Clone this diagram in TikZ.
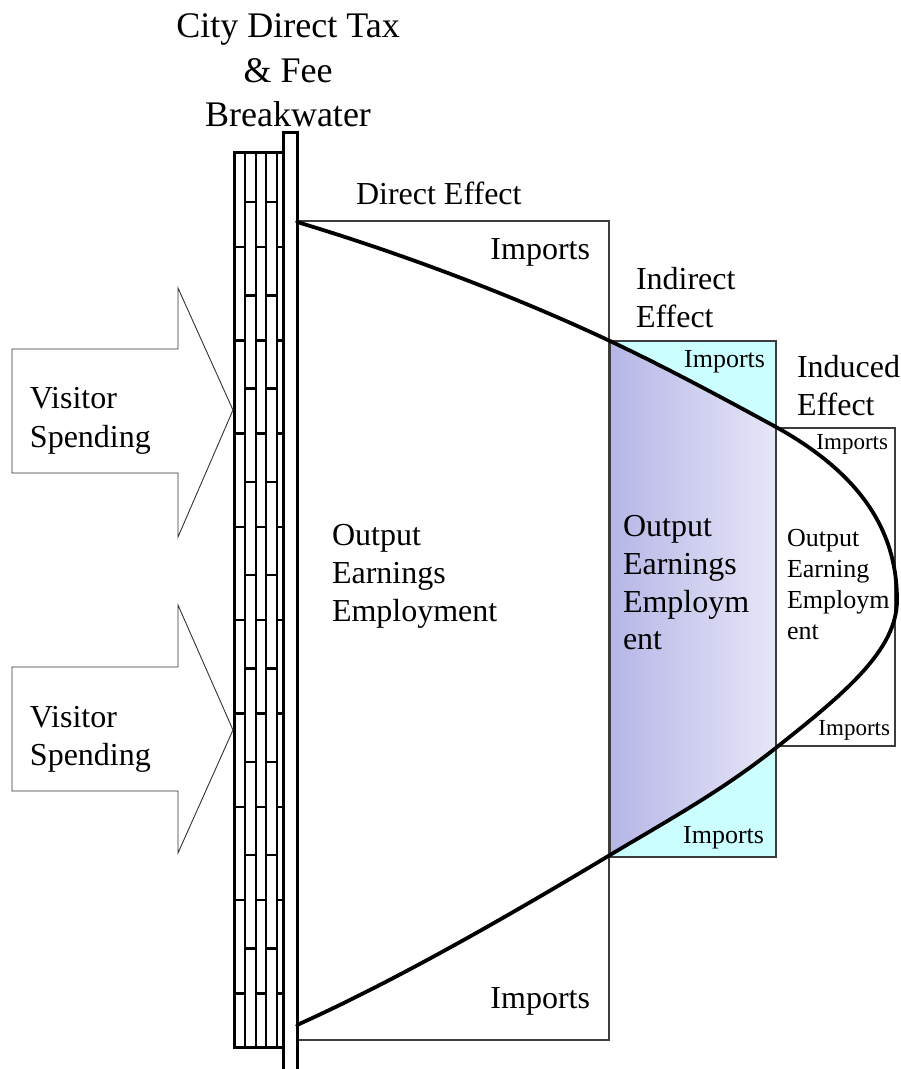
\documentclass[tikz,border=0pt]{standalone}
\usepackage{fontspec}
\setmainfont{Liberation Serif}
\definecolor{importcyan}{RGB}{204,255,255}
\definecolor{shadeleft}{RGB}{182,182,230}
\definecolor{shaderight}{RGB}{230,230,248}
\definecolor{frame}{RGB}{60,60,60}
\begin{document}
\begin{tikzpicture}[x=1pt,y=-1pt,
  txt/.style={inner sep=0pt, outer sep=0pt, anchor=base west},
  txtr/.style={inner sep=0pt, outer sep=0pt, anchor=base east},
  txtc/.style={inner sep=0pt, outer sep=0pt, anchor=base},
  big/.style={font=\fontsize{36}{44}\selectfont},
  mid/.style={font=\fontsize{32}{38}\selectfont},
  small/.style={font=\fontsize{26}{31}\selectfont},
  tiny/.style={font=\fontsize{23}{28}\selectfont},
  wall/.style={line width=3pt, line join=miter},
  joint/.style={line width=1.6pt},
  brick/.style={line width=2.4pt},
  effectbox/.style={draw=frame, line width=1.4pt},
  arrowline/.style={draw=black!80, line width=0.9pt, line join=miter},
  flow/.style={draw=black, line width=3.8pt, line cap=round}]
\useasboundingbox (0,0) rectangle (901,1069);

% the multiplier curve, from the breakwater out and back
\def\flowcurve{(297,222) .. controls (397,252) and (510,294) .. (610,341)
  .. controls (665,367) and (721,397) .. (776,427)
  .. controls (870,479) and (897,540) .. (897,600)
  .. controls (897,650) and (845,693) .. (777,747)
  .. controls (722,791) and (665,822) .. (610,855)
  .. controls (510,915) and (397,980) .. (297,1025)}

% direct effect frame
\draw[effectbox] (297,221) -- (609,221) -- (609,1040) -- (297,1040);

% indirect effect: imports in cyan, the retained part shaded
\fill[importcyan] (610,341) rectangle (776,857);
\begin{scope}
  \clip \flowcurve -- cycle;
  \shade[left color=shadeleft, right color=shaderight] (610,341) rectangle (776,857);
\end{scope}
\draw[effectbox] (610,341) rectangle (776,857);

% induced effect frame
\draw[effectbox] (776,428) -- (895,428) -- (895,746) -- (776,746);

% breakwater: post and brick columns
\draw[wall] (283,1069) -- (283,132) -- (297,132) -- (297,1069);
\draw[wall] (283,152) -- (234,152) -- (234,1047) -- (283,1047);
\foreach \x in {245,256,266,277} \draw[joint] (\x,152) -- (\x,1047);
\foreach \k in {0,...,8} {
  \pgfmathsetmacro\ye{202+93.3*\k}
  \draw[brick] (245,\ye) -- (256,\ye) (266,\ye) -- (277,\ye);
  \pgfmathsetmacro\yo{247+93.3*\k}
  \draw[brick] (234,\yo) -- (245,\yo) (256,\yo) -- (266,\yo) (277,\yo) -- (283,\yo);
}

% visitor spending arrows
\draw[arrowline] (12,349) -- (178,349) -- (178,288) -- (233,410) -- (178,537) -- (178,473) -- (12,473) -- cycle;
\draw[arrowline] (12,667) -- (178,667) -- (178,605) -- (233,730) -- (178,853) -- (178,791) -- (12,791) -- cycle;

% the curve itself
\draw[flow] \flowcurve;

% titles
\node[txtc, big] (t1) at (288,37) {City Direct Tax};
\node[txtc, big] (t2) at (288,82) {\& Fee};
\node[txtc, big] (t3) at (288,126) {Breakwater};

\node[txt, mid] (de) at (356,204) {Direct Effect};
\node[txt, mid] (ie1) at (636,289) {Indirect};
\node[txt, mid] (ie2) at (636,327) {Effect};
\node[txt, mid] (ue1) at (797,377) {Induced};
\node[txt, mid] (ue2) at (797,415) {Effect};

% imports labels
\node[txtr, mid] (di1) at (590,259) {Imports};
\node[txtr, mid] (di2) at (590,1008) {Imports};
\node[txtr, small] (ii1) at (765,367) {Imports};
\node[txtr, small] (ii2) at (764,843) {Imports};
\node[txtr, tiny] (ui1) at (888,449) {Imports};
\node[txtr, tiny] (ui2) at (890,735) {Imports};

% visitor spending
\node[txt, mid] (v1a) at (30,408) {Visitor};
\node[txt, mid] (v1b) at (30,447) {Spending};
\node[txt, mid] (v2a) at (30,727) {Visitor};
\node[txt, mid] (v2b) at (30,765) {Spending};

% outputs in each effect
\node[txt, mid] (do1) at (332,545) {Output};
\node[txt, mid] (do2) at (332,583) {Earnings};
\node[txt, mid] (do3) at (332,621) {Employment};

\node[txt, mid] (io1) at (623,536) {Output};
\node[txt, mid] (io2) at (623,574) {Earnings};
\node[txt, mid] (io3) at (623,612) {Employm};
\node[txt, mid] (io4) at (623,649) {ent};

\node[txt, small] (uo1) at (787,546) {Output};
\node[txt, small] (uo2) at (787,577) {Earning};
\node[txt, small] (uo3) at (787,608) {Employm};
\node[txt, small] (uo4) at (787,639) {ent};
\end{tikzpicture}
\end{document}
